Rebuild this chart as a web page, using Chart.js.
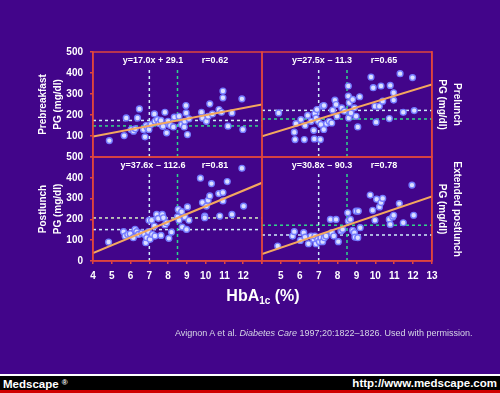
<!DOCTYPE html>
<html>
<head>
<meta charset="utf-8">
<script src="https://cdn.jsdelivr.net/npm/chart.js@4.4.1/dist/chart.umd.min.js"></script>
<style>
  html, body { margin: 0; padding: 0; }
  body {
    width: 500px; height: 393px; position: relative; overflow: hidden;
    background: #42058a;
    font-family: 'Liberation Sans', Arial, Helvetica, sans-serif;
  }
  canvas { position: absolute; left: 0; top: 0; }
  #xtitle {
    position: absolute; left: 163px; width: 200px; top: 287px;
    text-align: center; color: #fff; font-weight: bold; font-size: 16px; line-height: 18px;
  }
  #xtitle sub { font-size: 10px; vertical-align: -3px; }
  #cite {
    position: absolute; left: 175px; top: 327px; white-space: nowrap;
    color: #d6d6e6; font-size: 9px; line-height: 12px;
  }
  #footer-line { position: absolute; left: 0; top: 374px; width: 500px; height: 2px; background: #fff; }
  #footer { position: absolute; left: 0; top: 376px; width: 500px; height: 14px; background: #000; }
  #footer-red { position: absolute; left: 0; top: 390px; width: 500px; height: 3px; background: #d00000; }
  .foot-text {
    position: absolute; top: 376px; line-height: 14px; color: #fff;
    font-weight: bold; font-size: 11.5px;
  }
  #brand { left: 3px; }
  #brand sup { font-size: 8px; vertical-align: 3px; }
  #url { right: 3px; }
</style>
</head>
<body>
<canvas id="prebreakfast" width="500" height="393"></canvas>
<canvas id="prelunch" width="500" height="393"></canvas>
<canvas id="postlunch" width="500" height="393"></canvas>
<canvas id="extended" width="500" height="393"></canvas>

<div id="xtitle">HbA<sub>1c</sub> (%)</div>
<div id="cite">Avignon A et al. <i>Diabetes Care</i> 1997;20:1822–1826. Used with permission.</div>
<div id="footer-line"></div>
<div id="footer"></div>
<div id="footer-red"></div>
<div class="foot-text" id="brand">Medscape <sup>®</sup></div>
<div class="foot-text" id="url">http://www.medscape.com</div>

<script>
// axes
const hba1cRange = [4, 13];
const pgRange = [0, 500];
const cutoffHbA1c = [7, 8.5];
const cutoffTop = 425;   // vertical cutoff lines stop under the equation text

// Prebreakfast PG vs HbA1c
const prebreakfastX = [4.87, 5.66, 5.77, 6.03, 6.16, 6.37, 6.47, 6.25, 6.69, 6.77, 6.83, 6.9, 6.98, 7.09, 7.27, 7.3, 7.43, 7.52, 7.62, 7.71, 7.83, 7.92, 7.97, 8.0, 8.12, 8.28, 8.33, 8.58, 8.72, 8.86, 8.88, 8.95, 8.96, 9.03, 9.11, 9.78, 9.83, 10.04, 10.13, 10.22, 10.36, 10.71, 10.84, 10.92, 10.92, 11.19, 11.4, 11.93, 11.98, 7.73];
const prebreakfastPG = [78, 102, 186, 131, 123, 186, 229, 134, 131, 96, 150, 139, 131, 155, 205, 170, 178, 159, 174, 147, 213, 115, 159, 170, 150, 143, 190, 194, 155, 143, 170, 245, 210, 107, 182, 213, 186, 170, 194, 253, 205, 226, 213, 314, 282, 147, 210, 277, 131, 146];
const prebreakfastFit = [97, 250];      // at HbA1c 4 and 13
const prebreakfastLevels = [148, 174];  // fitted PG at the cutoffs

// Prelunch
const prelunchX = [4.88, 5.71, 5.75, 5.8, 6.06, 6.24, 6.28, 6.42, 6.6, 6.74, 6.77, 6.8, 6.86, 6.91, 6.98, 7.09, 7.12, 7.21, 7.27, 7.28, 7.42, 7.56, 7.69, 7.74, 7.86, 7.92, 7.97, 8.22, 8.36, 8.57, 8.57, 8.62, 8.59, 8.71, 8.8, 8.89, 8.98, 9.07, 9.17, 9.77, 9.89, 9.98, 10.04, 10.21, 10.3, 10.39, 10.74, 10.79, 10.97, 10.97, 11.31, 11.48, 11.97, 12.06];
const prelunchPG = [210, 118, 83, 159, 178, 83, 150, 198, 170, 127, 86, 207, 186, 226, 170, 83, 155, 242, 131, 245, 159, 170, 162, 223, 271, 250, 194, 234, 218, 338, 290, 258, 186, 210, 274, 234, 194, 143, 287, 381, 330, 242, 166, 242, 338, 266, 183, 341, 306, 271, 397, 213, 378, 221];
const prelunchFit = [99, 346];
const prelunchLevels = [181, 222];

// Postlunch
const postlunchX = [4.83, 5.63, 5.71, 5.85, 5.98, 6.15, 6.24, 6.33, 6.42, 6.6, 6.74, 6.81, 6.86, 6.95, 7.04, 6.98, 7.12, 7.16, 7.27, 7.3, 7.39, 7.48, 7.62, 7.69, 7.75, 7.83, 7.92, 8.04, 8.18, 8.5, 8.54, 8.58, 8.72, 8.75, 8.89, 8.98, 9.03, 9.11, 9.72, 9.83, 9.95, 9.95, 10.04, 10.13, 10.22, 10.31, 10.7, 10.75, 10.92, 10.92, 11.15, 11.4, 11.93, 12.02];
const postlunchPG = [91, 141, 120, 128, 131, 112, 152, 141, 128, 135, 128, 88, 112, 141, 104, 196, 196, 128, 168, 120, 224, 205, 123, 224, 208, 173, 184, 109, 139, 212, 248, 196, 237, 163, 212, 152, 260, 196, 398, 281, 216, 208, 264, 292, 313, 372, 324, 216, 329, 289, 382, 224, 446, 264];
const postlunchFit = [38, 376];
const postlunchLevels = [151, 207];

// Extended postlunch
const extendedX = [4.83, 5.62, 5.71, 6.03, 6.21, 6.28, 6.46, 6.6, 6.74, 6.8, 6.86, 6.95, 7.04, 7.12, 7.21, 7.3, 7.39, 7.62, 7.69, 7.8, 7.92, 8.04, 8.18, 8.27, 8.54, 8.57, 8.68, 8.8, 8.89, 8.92, 8.98, 9.07, 9.1, 9.2, 9.73, 9.86, 9.98, 10.07, 10.22, 10.3, 10.39, 10.74, 10.79, 10.92, 10.97, 11.27, 11.48, 11.94, 12.03];
const extendedPG = [72, 120, 141, 99, 136, 115, 83, 120, 104, 120, 83, 104, 93, 112, 93, 112, 120, 200, 136, 120, 200, 93, 144, 152, 232, 192, 200, 147, 136, 115, 240, 112, 240, 160, 317, 244, 196, 297, 260, 281, 301, 200, 176, 212, 220, 276, 184, 365, 220];
const extendedFit = [33, 310];
const extendedLevels = [125, 172];

const equations = ['y=17.0x + 29.1', 'y=27.5x \u2013 11.3', 'y=37.6x \u2013 112.6', 'y=30.8x \u2013 90.3'];
const rValues = ['r=0.62', 'r=0.65', 'r=0.81', 'r=0.78'];

const FRAME = '#e0463e';
const FONT = "'Liberation Sans', Arial, sans-serif";
Chart.defaults.font.family = FONT;

// red frame round each panel plus the equation / r text at its top
const panelFrame = {
    id: 'panelFrame',
    afterDatasetsDraw(chart, args, opts) {
        const { ctx, chartArea: a } = chart;
        ctx.save();
        ctx.strokeStyle = FRAME;
        ctx.lineWidth = 1.5;
        ctx.strokeRect(a.left, a.top, a.right - a.left, a.bottom - a.top);
        ctx.fillStyle = '#ffffff';
        ctx.font = 'bold 9px ' + FONT;
        ctx.textAlign = 'center';
        ctx.textBaseline = 'middle';
        ctx.fillText(opts.eq, a.left + 60, a.top + 9);
        ctx.fillText(opts.r, a.left + 122, a.top + 9);
        ctx.restore();
    }
};

function dashed(points, color) {
    return {
        type: 'line', data: points, borderColor: color, borderWidth: 1.5,
        borderDash: [3, 3], pointRadius: 0, fill: false
    };
}

function buildPanel(id, p) {
    const pts = p.x.map((v, i) => ({ x: v, y: p.y[i] }));
    const [x0, x1] = hba1cRange;

    const datasets = [
        {
            type: 'line',
            data: [{ x: x0, y: p.fit[0] }, { x: x1, y: p.fit[1] }],
            borderColor: '#f4a85e', borderWidth: 2, pointRadius: 0, fill: false
        },
        {
            data: pts,
            pointRadius: 2.9,
            pointBackgroundColor: '#dcdfff',
            pointBorderColor: '#747cff',
            pointBorderWidth: 1.4
        },
        dashed([{ x: cutoffHbA1c[0], y: pgRange[0] }, { x: cutoffHbA1c[0], y: cutoffTop }], '#cfeefa'),
        dashed([{ x: cutoffHbA1c[1], y: pgRange[0] }, { x: cutoffHbA1c[1], y: cutoffTop }], '#2fd68a'),
        dashed([{ x: x0, y: p.levels[0] }, { x: x1, y: p.levels[0] }], p.levelColors[0]),
        dashed([{ x: x0, y: p.levels[1] }, { x: x1, y: p.levels[1] }], p.levelColors[1])
    ];

    const left = p.side === 'left';

    new Chart(document.getElementById(id), {
        type: 'scatter',
        data: { datasets },
        options: {
            responsive: false,
            animation: false,
            events: [],
            layout: { padding: p.pad },
            plugins: {
                legend: { display: false },
                tooltip: { enabled: false },
                panelFrame: { eq: p.eq, r: p.r }
            },
            scales: {
                x: {
                    type: 'linear',
                    min: x0, max: x1,
                    display: p.showX,
                    ticks: {
                        stepSize: 1,
                        color: '#ffffff',
                        padding: 6,
                        font: { size: 10, weight: 'bold' },
                        callback: v => (v === p.hideX ? '' : v)
                    },
                    grid: { drawOnChartArea: false, tickLength: 3, tickColor: FRAME, lineWidth: 1.5 },
                    border: { color: FRAME, width: 1.5 },
                    afterFit: s => { s.height = p.showX ? 20 : 0; }
                },
                y: {
                    min: pgRange[0], max: pgRange[1],
                    position: p.side,
                    ticks: {
                        display: left,
                        stepSize: 100,
                        color: '#ffffff',
                        padding: 7,
                        font: { size: 10, weight: 'bold' },
                        callback: v => (v === p.hideY ? '' : v)
                    },
                    grid: { drawOnChartArea: false, drawTicks: left, tickLength: 3, tickColor: FRAME, lineWidth: 1.5 },
                    border: { color: FRAME, width: 1.5 },
                    title: {
                        display: true,
                        text: p.title,
                        color: '#ffffff',
                        font: { size: 10, weight: 'bold', lineHeight: 1.5 },
                        padding: { top: 35.5, bottom: 0 }
                    },
                    afterFit: s => { s.width = left ? 93 : 68; }
                }
            }
        },
        plugins: [panelFrame]
    });
}

buildPanel('prebreakfast', {
    x: prebreakfastX, y: prebreakfastPG, fit: prebreakfastFit, levels: prebreakfastLevels,
    levelColors: ['#33d88a', '#cfeefa'],
    eq: equations[0], r: rValues[0], title: ['Prebreakfast', 'PG (mg/dl)'],
    side: 'left', showX: false, hideY: 0,
    pad: { left: 0, top: 52, right: 238, bottom: 236 }
});
buildPanel('prelunch', {
    x: prelunchX, y: prelunchPG, fit: prelunchFit, levels: prelunchLevels,
    levelColors: ['#33d88a', '#cfeefa'],
    eq: equations[1], r: rValues[1], title: ['Prelunch', 'PG (mg/dl)'],
    side: 'right', showX: false,
    pad: { left: 262, top: 52, right: 0, bottom: 236 }
});
buildPanel('postlunch', {
    x: postlunchX, y: postlunchPG, fit: postlunchFit, levels: postlunchLevels,
    levelColors: ['#cfeefa', '#d8f0c0'],
    eq: equations[2], r: rValues[2], title: ['Postlunch', 'PG (mg/dl)'],
    side: 'left', showX: true, hideX: 13,
    pad: { left: 0, top: 157, right: 238, bottom: 112 }
});
buildPanel('extended', {
    x: extendedX, y: extendedPG, fit: extendedFit, levels: extendedLevels,
    levelColors: ['#cfeefa', '#33d88a'],
    eq: equations[3], r: rValues[3], title: ['Extended postlunch', 'PG (mg/dl)'],
    side: 'right', showX: true, hideX: 4,
    pad: { left: 262, top: 157, right: 0, bottom: 112 }
});
</script>
</body>
</html>
